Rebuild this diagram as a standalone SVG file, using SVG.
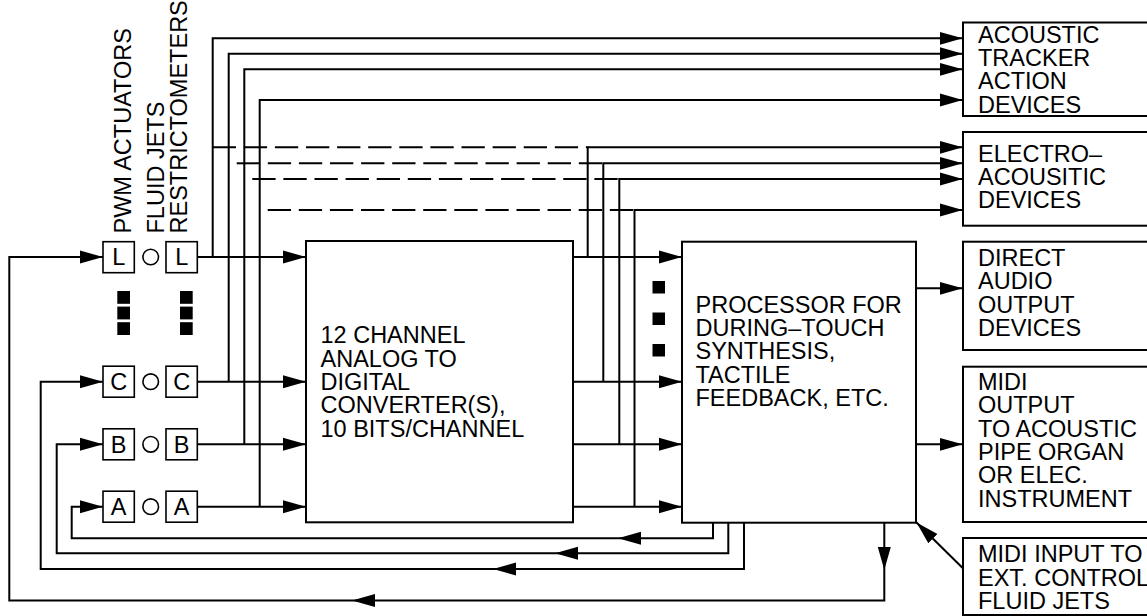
<svg xmlns="http://www.w3.org/2000/svg" xmlns:xlink="http://www.w3.org/1999/xlink" width="1147" height="616" viewBox="0 0 1147 616">
<style>
text{font-family:"Liberation Sans",Arial,sans-serif;font-size:23.5px;fill:#000}
.box{fill:#fff;stroke:#000;stroke-width:2}
.sbox{fill:#fff;stroke:#000;stroke-width:1.6}
.ln{fill:none;stroke:#000;stroke-width:2}
.arr{marker-end:url(#ah)}
.dash{fill:none;stroke:#000;stroke-width:2;stroke-dasharray:23.3 7.8}
.sq{fill:#000}
.mid{text-anchor:middle}
</style>
<defs>
<marker id="ah" markerUnits="userSpaceOnUse" markerWidth="24" markerHeight="14" viewBox="0 0 24 14" refX="23" refY="7" orient="auto">
<path d="M0,0.5 L23,7 L0,13.5 z" fill="#000"/>
</marker>
<path id="la" d="M0,0 L23,-6.5 L23,6.5 z" fill="#000"/>
<path id="da" d="M0,0 L-6.5,-23 L6.5,-23 z" fill="#000"/>
</defs>
<rect width="1147" height="616" fill="#fff"/>

<g id="labels">
<text transform="translate(131,233.5) rotate(-90)">PWM ACTUATORS</text>
<text transform="translate(163.5,233.5) rotate(-90)">FLUID JETS</text>
<text transform="translate(187,233.5) rotate(-90)">RESTRICTOMETERS</text>
</g>

<g id="connectors">
<path class="ln arr" d="M884.3,523 V600.5 H9.3 V257 H103"/>
<path class="ln arr" d="M744,523 V569 H40.7 V381.7 H103"/>
<path class="ln arr" d="M728.3,523 V553.3 H56.7 V444.3 H103"/>
<path class="ln arr" d="M713,523 V538.3 H71.7 V506.7 H103"/>
<use xlink:href="#la" x="618" y="538.3"/>
<use xlink:href="#la" x="555" y="553.3"/>
<use xlink:href="#la" x="493" y="569"/>
<use xlink:href="#la" x="352" y="600.5"/>
<use xlink:href="#da" x="884.3" y="570"/>
<path class="ln arr" d="M197.5,257 H306"/>
<path class="ln arr" d="M197.5,381.7 H306"/>
<path class="ln arr" d="M197.5,444.3 H306"/>
<path class="ln arr" d="M197.5,506.7 H306"/>
<path class="ln arr" d="M212.7,257 V38.3 H962.7"/>
<path class="ln arr" d="M228.7,381.7 V53.7 H962.7"/>
<path class="ln arr" d="M244.3,444.3 V69.3 H962.7"/>
<path class="ln arr" d="M259.7,506.7 V100 H962.7"/>
<path class="dash" d="M212.7,147.3 H587.7"/>
<path class="dash" d="M236.7,163.3 H603.3"/>
<path class="dash" d="M252.3,179 H619.3"/>
<path class="dash" d="M267.7,210 H634.5"/>
<path class="ln arr" d="M573,257 H682"/>
<path class="ln arr" d="M573,381.7 H682"/>
<path class="ln arr" d="M573,444.3 H682"/>
<path class="ln arr" d="M573,506.7 H682"/>
<path class="ln arr" d="M587.7,257 V147.3 H962.7"/>
<path class="ln arr" d="M603.3,381.7 V163.3 H962.7"/>
<path class="ln arr" d="M619.3,444.3 V179 H962.7"/>
<path class="ln arr" d="M634.5,506.7 V210 H962.7"/>
<path class="ln arr" d="M916,288.3 H962.7"/>
<path class="ln arr" d="M916,444.3 H962.7"/>
<path class="ln arr" d="M962.7,568 L916.5,522.5"/>
</g>

<g id="ellipsis-left">
<rect class="sq" x="117.3" y="291" width="12.7" height="12.8"/>
<rect class="sq" x="117.3" y="306.6" width="12.7" height="12.8"/>
<rect class="sq" x="117.3" y="322.2" width="12.7" height="12.8"/>
<rect class="sq" x="180" y="291" width="12.7" height="12.8"/>
<rect class="sq" x="180" y="306.6" width="12.7" height="12.8"/>
<rect class="sq" x="180" y="322.2" width="12.7" height="12.8"/>
</g>
<g id="ellipsis-mid">
<rect class="sq" x="652.5" y="281" width="12.5" height="12.5"/>
<rect class="sq" x="652.5" y="312.5" width="12.5" height="12.5"/>
<rect class="sq" x="652.5" y="344" width="12.5" height="12.5"/>
</g>

<g id="row-L">
<rect class="sbox" x="103" y="241.7" width="31.3" height="31"/>
<text class="mid" x="118.7" y="265.3">L</text>
<circle cx="150.7" cy="257" r="7.8" fill="#fff" stroke="#000" stroke-width="1.6"/>
<rect class="sbox" x="166" y="241.7" width="31.3" height="31"/>
<text class="mid" x="181.7" y="265.3">L</text>
</g>
<g id="row-C">
<rect class="sbox" x="103" y="366.2" width="31.3" height="31"/>
<text class="mid" x="118.7" y="390">C</text>
<circle cx="150.7" cy="381.7" r="7.8" fill="#fff" stroke="#000" stroke-width="1.6"/>
<rect class="sbox" x="166" y="366.2" width="31.3" height="31"/>
<text class="mid" x="181.7" y="390">C</text>
</g>
<g id="row-B">
<rect class="sbox" x="103" y="428.8" width="31.3" height="31"/>
<text class="mid" x="118.7" y="452.6">B</text>
<circle cx="150.7" cy="444.3" r="7.8" fill="#fff" stroke="#000" stroke-width="1.6"/>
<rect class="sbox" x="166" y="428.8" width="31.3" height="31"/>
<text class="mid" x="181.7" y="452.6">B</text>
</g>
<g id="row-A">
<rect class="sbox" x="103" y="491.2" width="31.3" height="31"/>
<text class="mid" x="118.7" y="515">A</text>
<circle cx="150.7" cy="506.7" r="7.8" fill="#fff" stroke="#000" stroke-width="1.6"/>
<rect class="sbox" x="166" y="491.2" width="31.3" height="31"/>
<text class="mid" x="181.7" y="515">A</text>
</g>

<g id="adc">
<rect class="box" x="306" y="241" width="267" height="281.3"/>
<text><tspan x="320.5" y="343.3">12 CHANNEL</tspan><tspan x="320.5" y="366.6">ANALOG TO</tspan><tspan x="320.5" y="390">DIGITAL</tspan><tspan x="320.5" y="413.3">CONVERTER(S),</tspan><tspan x="320.5" y="436.7">10 BITS/CHANNEL</tspan></text>
</g>

<g id="processor">
<rect class="box" x="682" y="241.7" width="234" height="281"/>
<text><tspan x="695.5" y="312.7">PROCESSOR FOR</tspan><tspan x="695.5" y="336">DURING–TOUCH</tspan><tspan x="695.5" y="359.3">SYNTHESIS,</tspan><tspan x="695.5" y="382.7">TACTILE</tspan><tspan x="695.5" y="406">FEEDBACK, ETC.</tspan></text>
</g>

<g id="acoustic-tracker">
<rect class="box" x="963" y="22.5" width="200" height="93.5"/>
<text><tspan x="978" y="42.7">ACOUSTIC</tspan><tspan x="978" y="66">TRACKER</tspan><tspan x="978" y="89.3">ACTION</tspan><tspan x="978" y="112.7">DEVICES</tspan></text>
</g>
<g id="electro-acoustic">
<rect class="box" x="963" y="132" width="200" height="93.7"/>
<text><tspan x="978" y="161.7">ELECTRO–</tspan><tspan x="978" y="185">ACOUSITIC</tspan><tspan x="978" y="208.3">DEVICES</tspan></text>
</g>
<g id="direct-audio">
<rect class="box" x="963" y="241.7" width="200" height="108.3"/>
<text><tspan x="978" y="266">DIRECT</tspan><tspan x="978" y="289.3">AUDIO</tspan><tspan x="978" y="312.7">OUTPUT</tspan><tspan x="978" y="336">DEVICES</tspan></text>
</g>
<g id="midi-output">
<rect class="box" x="963" y="366.7" width="200" height="155.3"/>
<text><tspan x="978" y="390">MIDI</tspan><tspan x="978" y="413.3">OUTPUT</tspan><tspan x="978" y="436.7">TO ACOUSTIC</tspan><tspan x="978" y="460">PIPE ORGAN</tspan><tspan x="978" y="483.3">OR ELEC.</tspan><tspan x="978" y="506.7">INSTRUMENT</tspan></text>
</g>
<g id="midi-input">
<rect class="box" x="963" y="538" width="200" height="77"/>
<text><tspan x="978" y="562.3">MIDI INPUT TO</tspan><tspan x="978" y="585.7">EXT. CONTROL</tspan><tspan x="978" y="609">FLUID JETS</tspan></text>
</g>
</svg>
